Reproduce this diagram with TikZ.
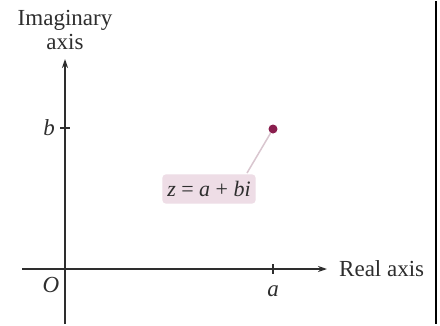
\documentclass[tikz,border=0pt]{standalone}
\usepackage{fontspec}
\setmainfont{Liberation Serif}
\usetikzlibrary{arrows.meta, positioning, calc}
\definecolor{axisgray}{HTML}{2E2E2E}
\definecolor{plum}{HTML}{8A1E4E}
\definecolor{lilac}{HTML}{EEDDE6}
\definecolor{leadline}{HTML}{D9C6CF}

\begin{document}
\begin{tikzpicture}[
  x=1pt, y=-1pt,
  >={Stealth[length=9pt, width=6pt]},
  every node/.style={text=axisgray, font=\fontsize{23}{24}\selectfont},
  axisline/.style={axisgray, line width=1.4pt},
  tickmark/.style={axisgray, line width=1.4pt},
  pointlabel/.style={fill=lilac, rounded corners=4pt, inner xsep=5pt, inner ysep=7pt},
]

% Background
\fill[white] (0,0) rectangle (440,323);
\draw[black, line width=2pt] (436,0) -- (436,323);

% Axes
\coordinate (O) at (65,268);
\coordinate (xstart) at (22,268);
\coordinate (xend) at (327,268);
\coordinate (ystart) at (65,323);
\coordinate (yend) at (65,58);
\draw[axisline, ->] (xstart) -- (xend);
\draw[axisline, ->] (ystart) -- (yend);

% Axis titles
\node[align=center, inner sep=0pt] (imag) at (65,29) {Imaginary\\axis};
\node[anchor=west, inner sep=0pt] (real) at (339,268) {Real axis};
\node[inner sep=0pt] (olabel) at (51,284) {\textit{O}};

% Ticks
\coordinate (atick) at (273,268);
\coordinate (btick) at (65,127);
\draw[tickmark] ($(atick)+(0,-5)$) -- ($(atick)+(0,5)$);
\draw[tickmark] ($(btick)+(-5,0)$) -- ($(btick)+(5,0)$);
\node[inner sep=0pt] (alabel) at (273,290) {\textit{a}};
\node[inner sep=0pt] (blabel) at (49,127) {\textit{b}};

% Point z
\node[circle, fill=plum, inner sep=0pt, minimum size=9pt] (zpt) at (273,128) {};
\node[pointlabel, font=\fontsize{22}{23}\selectfont] (zlabel) at (209,188) {\textit{z} = \textit{a} + \textit{bi}};
\coordinate (zfoot) at (247,172);
\draw[leadline, line width=1.5pt] (zpt) -- (zfoot);

\end{tikzpicture}
\end{document}
